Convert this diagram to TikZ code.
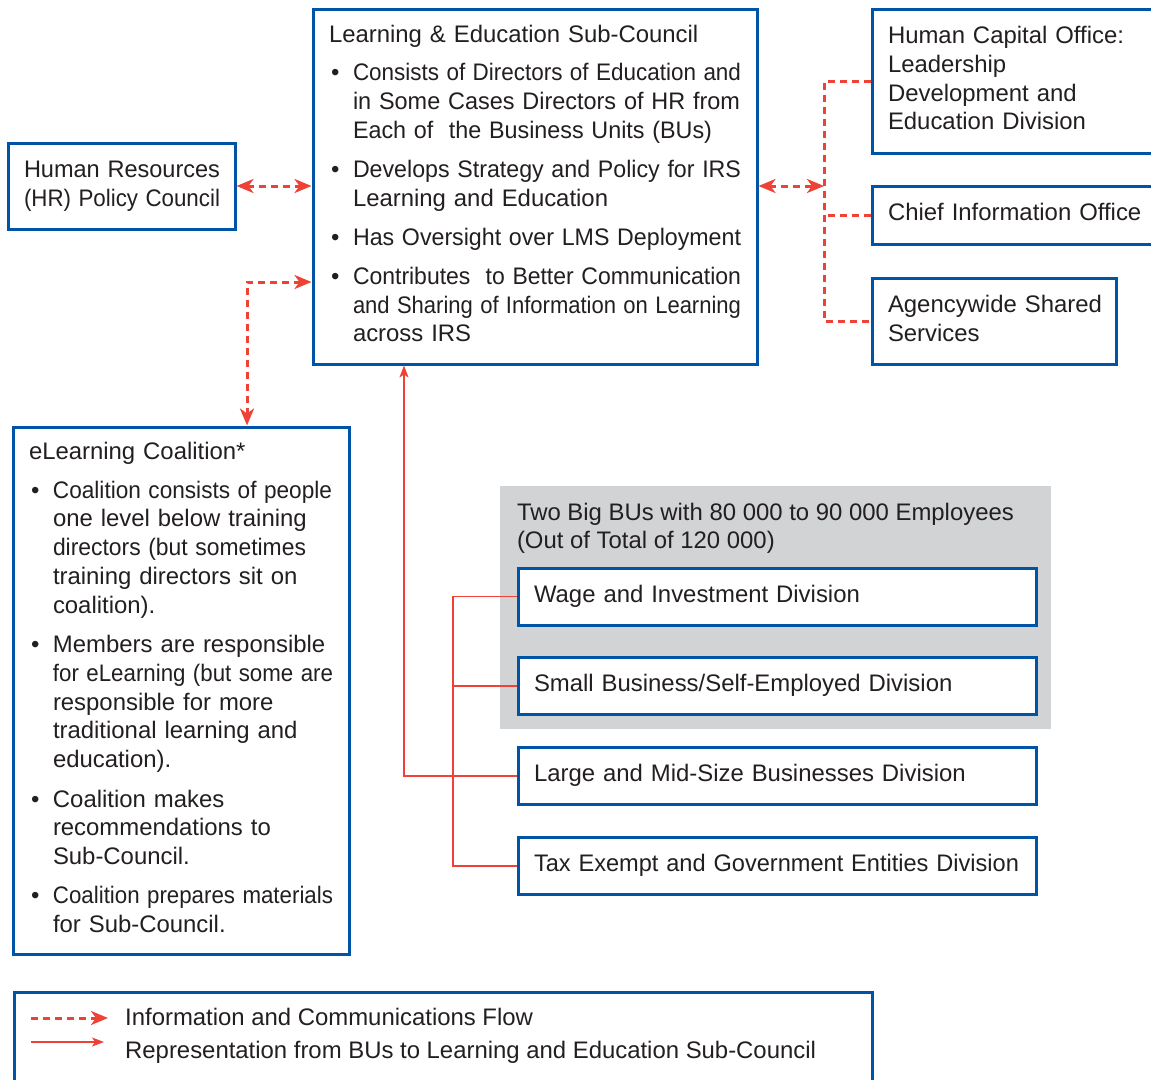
\documentclass[tikz,border=0pt]{standalone}
\usepackage{fontspec}
\setmainfont{Liberation Sans}
\usepackage{xcolor}
\usepackage{graphicx}
\usepackage{tikz}
\usetikzlibrary{arrows.meta}
\definecolor{irsblue}{HTML}{0054A6}
\definecolor{flowred}{HTML}{EF4136}
\definecolor{txtgrey}{HTML}{231F20}
\definecolor{bugrey}{HTML}{D1D3D4}
\newcommand{\boxfont}{\fontsize{23.9}{28.8}\selectfont}
\newcommand{\boxlines}[1]{\begin{tabular}[t]{@{}l@{}}#1\end{tabular}}
\newcommand{\squeeze}[2]{\resizebox{#1pt}{\height}{#2}}
\newcommand{\bitem}[1]{\par\vskip9.5pt\noindent\hbox to 24pt{\hskip2pt\textbullet\hfil}\boxlines{#1}}
\tikzstyle{unit} = [rectangle, draw=irsblue, line width=3pt, fill=white, text=txtgrey, align=left, font=\boxfont, inner xsep=16pt, inner ysep=0pt]
\tikzstyle{flow} = [draw=flowred, line width=3pt, dash pattern=on 7pt off 5pt, >={Stealth[length=17pt,width=14pt,inset=5pt]}]
\tikzstyle{rep} = [draw=flowred, line width=1.8pt, >={Stealth[length=12pt,width=9pt,inset=3pt]}]

\begin{document}
\begin{tikzpicture}[x=1pt, y=-1pt]
	
	\useasboundingbox (0,0) rectangle (1151,1079);
	\clip (0,0) rectangle (1151,1079);
	
	\node (sub) [unit, minimum width=444pt, minimum height=355pt, text width=412pt] at (535,186.5) {\noindent\boxlines{Learning \& Education Sub-Council}\bitem{\squeeze{388}{Consists of Directors of Education and}\\\squeeze{387}{in Some Cases Directors of HR from}\\\squeeze{359}{Each of\ \ the Business Units (BUs)}}\bitem{\squeeze{388}{Develops Strategy and Policy for IRS}\\Learning and Education}\bitem{\squeeze{388}{Has Oversight over LMS Deployment}}\bitem{\squeeze{388}{Contributes\ \ to Better Communication}\\\squeeze{388}{and Sharing of Information on Learning}\\across IRS}};
	\node (hr) [unit, minimum width=227pt, minimum height=86pt, text width=195pt] at (121.5,186) {\boxlines{\squeeze{196}{Human Resources}\\\squeeze{196}{(HR) Policy Council}}};
	
	\node (hco) [unit, minimum width=293pt, minimum height=144pt, text width=261pt] at (1018.5,81) {\boxlines{Human Capital Office:\\Leadership\\Development and\\Education Division}};
	\node (cio) [unit, minimum width=293pt, minimum height=58pt, text width=261pt] at (1018.5,215) {\boxlines{Chief Information Office}};
	\node (agency) [unit, minimum width=244pt, minimum height=86pt, text width=212pt] at (994,321) {\boxlines{Agencywide Shared\\Services}};
	
	\node (elearn) [unit, minimum width=336pt, minimum height=527pt, text width=304pt] at (181,690.5) {\noindent\boxlines{eLearning Coalition*}\bitem{\squeeze{279}{Coalition consists of people}\\one level below training\\\squeeze{253}{directors (but sometimes}\\training directors sit on\\coalition).}\bitem{Members are responsible\\\squeeze{280}{for eLearning (but some are}\\responsible for more\\traditional learning and\\education).}\bitem{Coalition makes\\recommendations to\\Sub-Council.}\bitem{\squeeze{280}{Coalition prepares materials}\\for Sub-Council.}};
	
	\node (bigbu) [rectangle, fill=bugrey, minimum width=551pt, minimum height=243pt] at (775.5,607.5) {};
	\node (bigtxt) [anchor=north west, inner sep=0pt, align=left, font=\boxfont, text=txtgrey] at ([shift={(17,14)}]bigbu.north west) {\boxlines{Two Big BUs with 80 000 to 90 000 Employees\\(Out of Total of 120 000)}};
	
	\node (wage) [unit, minimum width=518pt, minimum height=57pt, text width=486pt] at (777,596.5) {\boxlines{Wage and Investment Division}};
	\node (small) [unit, minimum width=518pt, minimum height=57pt, text width=486pt] at (777,686) {\boxlines{Small Business/Self-Employed Division}};
	\node (large) [unit, minimum width=518pt, minimum height=57pt, text width=486pt] at (777,776) {\boxlines{Large and Mid-Size Businesses Division}};
	\node (tax) [unit, minimum width=518pt, minimum height=57pt, text width=486pt] at (777,866) {\boxlines{\squeeze{485}{Tax Exempt and Government Entities Division}}};
	
	\draw [flow, <->] (hr.east) -- (sub.west |- hr.east);
	
	\coordinate (rbus) at (824,186);
	\draw [flow, <->] (sub.east |- rbus) -- (rbus);
	\draw [flow] (hco.west) -- (hco.west -| rbus) -- (agency.west -| rbus) -- (agency.west);
	\draw [flow] (cio.west) -- (cio.west -| rbus);
	
	\coordinate (lbend) at (247,282);
	\draw [flow, <->] (sub.west |- lbend) -- (lbend) -- (lbend |- elearn.north);
	
	\coordinate (bbus) at (453,776);
	\coordinate (lrise) at (404,776);
	\draw [rep, ->] (large.west) -- (lrise) -- (lrise |- sub.south);
	\draw [rep] (wage.west) -- (wage.west -| bbus) -- (tax.west -| bbus) -- (tax.west);
	\draw [rep] (small.west) -- (small.west -| bbus);
	
	\node (legend) [rectangle, draw=irsblue, line width=3pt, minimum width=858pt, minimum height=120pt, anchor=north west] at (13,991) {};
	\node (leg1) [anchor=west, inner sep=0pt, font=\boxfont, text=txtgrey] at (125,1017) {Information and Communications Flow};
	\node (leg2) [anchor=west, inner sep=0pt, font=\boxfont, text=txtgrey] at (125,1052) {Representation from BUs to Learning and Education Sub-Council};
	
	\coordinate (f1s) at (31,1018);
	\coordinate (f1e) at (108,1018);
	\coordinate (r1s) at (31,1042);
	\coordinate (r1e) at (104,1042);
	\draw [flow, ->] (f1s) -- (f1e);
	\draw [rep, ->, line width=1.5pt] (r1s) -- (r1e);
	
\end{tikzpicture}
\end{document}
